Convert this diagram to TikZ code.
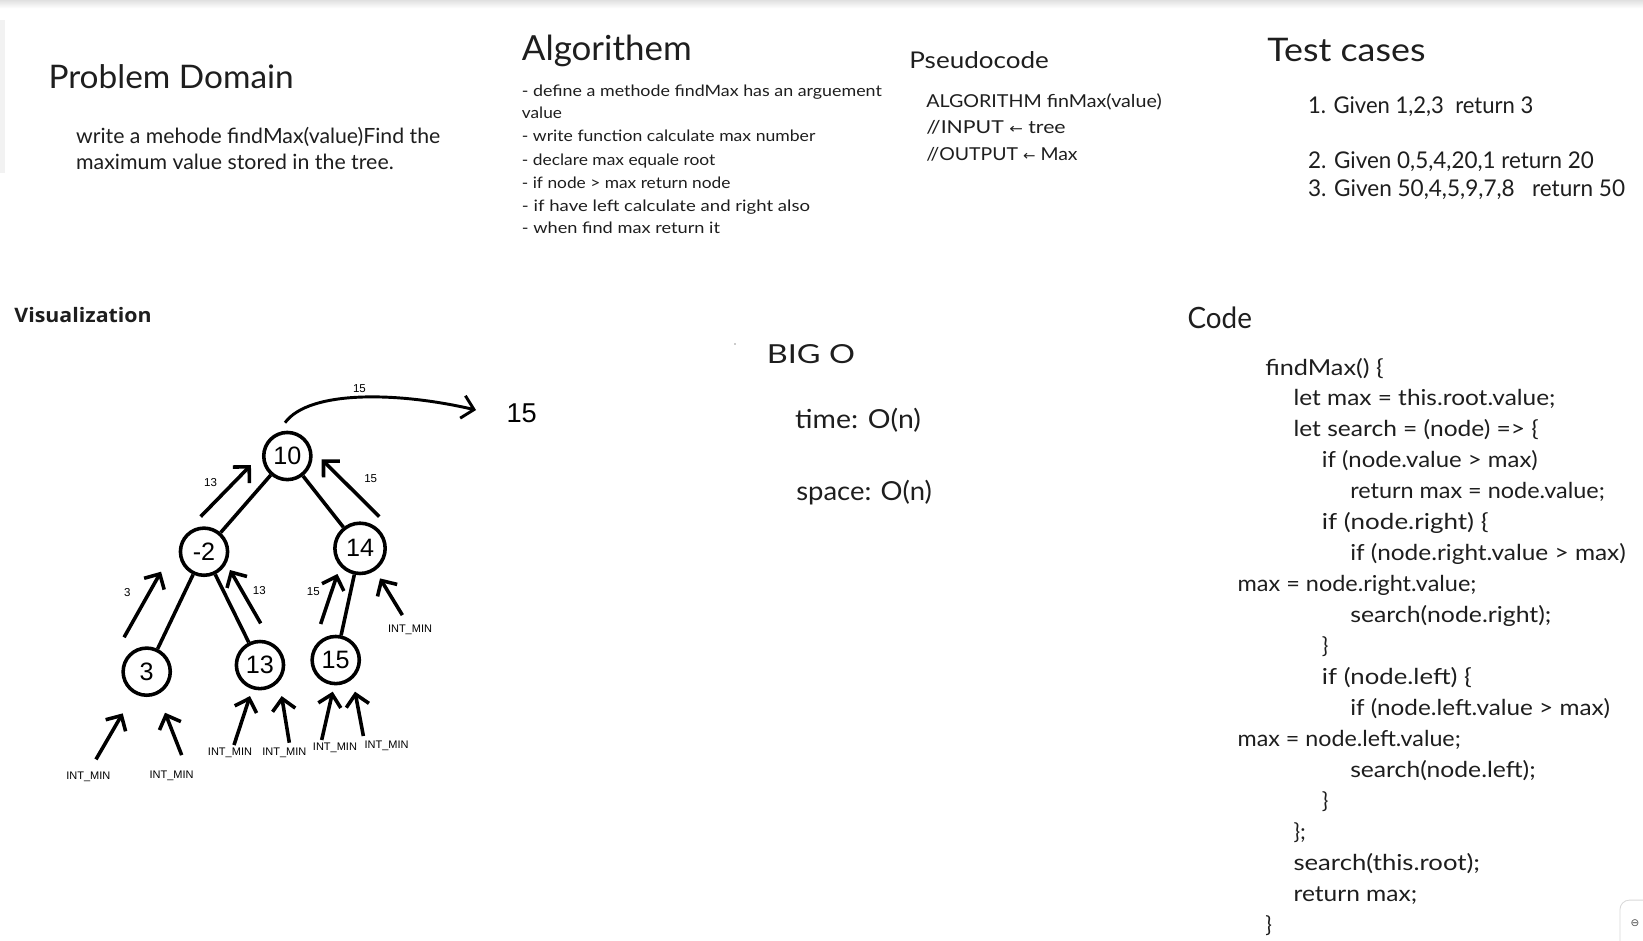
\documentclass[tikz,border=0pt]{standalone}
\usepackage{fontspec}
\usepackage{graphicx}
\usetikzlibrary{arrows.meta}
\setmainfont{Lato}
\newfontfamily\hand{Lato}
\newfontfamily\arialf{Liberation Sans}
\newfontfamily\vizf{Open Sans}
\newfontfamily\symf{DejaVu Sans}
\definecolor{ink}{HTML}{1E1E1E}
\newcommand\fitw[2]{\resizebox{#1pt}{\height}{#2}}
\newcommand\fs[1]{\fontsize{#1}{#1}\selectfont}
\begin{document}
\begin{tikzpicture}[x=1pt,y=-1pt,
  txt/.style={anchor=base west, inner sep=0pt, text=ink},
  h1/.style={txt, font=\hand\fs{31}},
  body/.style={txt, font=\hand\fs{20}},
  bul/.style={txt, font=\hand\fs{15}},
  pse/.style={txt, font=\hand\fs{17}},
  tst/.style={txt, font=\hand\fs{22}},
  big/.style={txt, font=\hand\fs{25}},
  cd/.style={txt, font=\hand\fs{21}},
  tn/.style={circle, draw=black, line width=3.4pt, inner sep=0pt, minimum size=45pt, font=\arialf\fs{24}},
  edge/.style={draw=black, line width=3.4pt},
  arr/.style={draw=black, line width=3.4pt, -{Straight Barb[length=11pt,width=22pt]}},
  lbl/.style={inner sep=0pt, font=\arialf\fs{11}},
  imin/.style={inner sep=0pt, font=\arialf\fs{10.5}}]
\useasboundingbox (0,0) rectangle (1568,898);
\clip (0,0) rectangle (1568,898);
\fill[white] (0,0) rectangle (1568,898);
% page edges
\shade[top color=black!12, bottom color=white] (0,0) rectangle (1568,8);
\fill[black!5] (0,19) rectangle (5,165);
% Problem Domain
\node[h1] (pd) at (46.1,84.3) {\fitw{234}{Problem Domain}};
\node[body] (pd1) at (72.5,137.4) {\fitw{347.5}{write a mehode findMax(value)Find the}};
\node[body] (pd2) at (72.5,162.2) {\fitw{303}{maximum value stored in the tree.}};
% Algorithem
\node[txt, font=\hand\fs{33}] (al) at (497.9,57.3) {\fitw{162}{Algorithem}};
\node[bul] (al1) at (497.9,92.3) {\fitw{343.5}{- define a methode findMax has an arguement}};
\node[bul] (al2) at (497.9,112.9) {\fitw{38.2}{value}};
\node[bul] (al3) at (497.9,135.2) {\fitw{280}{- write function calculate max number}};
\node[bul] (al4) at (497.9,157.5) {\fitw{184.5}{- declare max equale root}};
\node[bul] (al5) at (497.9,179.7) {\fitw{199}{- if node > max return node}};
\node[bul] (al6) at (497.9,202) {\fitw{275}{- if have left calculate and right also}};
\node[bul] (al7) at (497.9,222.7) {\fitw{189}{- when find max return it}};
% Pseudocode
\node[txt, font=\hand\fs{22}] (ps) at (867.7,65.2) {\fitw{133}{Pseudocode}};
\node[pse] (ps1) at (883.8,102.4) {\fitw{224.6}{ALGORITHM finMax(value)}};
\node[pse] (ps2) at (883.8,127.2) {\fitw{133}{//INPUT {\symf\fs{13}←} tree}};
\node[pse] (ps3) at (883.8,153.3) {\fitw{144.4}{//OUTPUT {\symf\fs{13}←} Max}};
% Test cases
\node[h1] (tc) at (1209.2,58.9) {\fitw{151}{Test cases}};
\node[tst] (tc1) at (1248.2,108.2) {\fitw{215}{1. Given 1,2,3\ \ return 3}};
\node[tst] (tc2) at (1248.2,160.6) {\fitw{272.7}{2. Given 0,5,4,20,1 return 20}};
\node[tst] (tc3) at (1248.2,187.7) {\fitw{302.5}{3. Given 50,4,5,9,7,8\ \ \ return 50}};
% Visualization
\node[txt, font=\vizf\bfseries\fs{19}] (viz) at (13.6,308) {\fitw{131}{Visualization}};
% Big O
\fill[black!40] (701.5,328.3) circle (0.8);
\node[big] (bo) at (731.7,346.8) {\fitw{84}{BIG O}};
\node[big] (bo1) at (758.7,408.8) {\fitw{120}{time: O(n)}};
\node[big] (bo2) at (759.7,477.2) {\fitw{129.5}{space: O(n)}};
% Code
\node[txt, font=\hand\fs{28}] (code) at (1133.2,313.4) {\fitw{61.4}{Code}};
\node[cd] (c1) at (1207.3,357.9) {\fitw{113}{findMax() \{}};
\node[cd] (c2) at (1234.3,387.45) {\fitw{250}{let max = this.root.value;}};
\node[cd] (c3) at (1234.3,417.0) {\fitw{234}{let search = (node) => \{}};
\node[cd] (c4) at (1261.4,446.55) {\fitw{206}{if (node.value > max)}};
\node[cd] (c5) at (1288.4,476.1) {\fitw{243}{return max = node.value;}};
\node[cd] (c6) at (1261.4,505.65) {\fitw{159}{if (node.right) \{}};
\node[cd] (c7) at (1288.4,535.2) {\fitw{263}{if (node.right.value > max)}};
\node[cd] (c8) at (1180.9,564.75) {\fitw{228}{max = node.right.value;}};
\node[cd] (c9) at (1288.4,594.3) {\fitw{192}{search(node.right);}};
\node[cd] (c10) at (1261.4,623.85) {\}};
\node[cd] (c11) at (1261.4,653.4) {\fitw{143}{if (node.left) \{}};
\node[cd] (c12) at (1288.4,682.95) {\fitw{248}{if (node.left.value > max)}};
\node[cd] (c13) at (1180.9,712.5) {\fitw{213}{max = node.left.value;}};
\node[cd] (c14) at (1288.4,742.05) {\fitw{177}{search(node.left);}};
\node[cd] (c15) at (1261.4,771.6) {\}};
\node[cd] (c16) at (1234.3,801.15) {\};};
\node[cd] (c17) at (1234.3,830.7) {\fitw{178}{search(this.root);}};
\node[cd] (c18) at (1234.3,860.25) {\fitw{118}{return max;}};
\node[cd] (c19) at (1207.3,889.8) {\}};
% corner widget
\draw[black!15, fill=white, rounded corners=9pt, line width=0.8pt] (1546,859) rectangle (1610,930);
\node[anchor=west, inner sep=0pt, text=black!70, font=\symf\fs{10}] (zoomicon) at (1556,881) {⊖};
% Tree
\node[tn] (n10) at (274.2,435.2) {10};
\node[tn] (nm2) at (194.7,526.5) {-2};
\node[tn, minimum size=48pt] (n14) at (343.6,523.3) {14};
\node[tn] (n3) at (140,641) {3};
\node[tn] (n13) at (248.1,634.7) {13};
\node[tn] (n15) at (320.4,629.9) {15};
\draw[edge] (n10) -- (nm2);
\draw[edge] (n10) -- (n14);
\draw[edge] (nm2) -- (n3);
\draw[edge] (nm2) -- (n13);
\draw[edge] (n14) -- (n15);
% return arrows
\coordinate (a1s) at (191.5,493);   \coordinate (a1e) at (239.5,443.8);
\coordinate (a2s) at (362,493);     \coordinate (a2e) at (307,438.4);
\coordinate (a3s) at (118.4,608.2); \coordinate (a3e) at (153.7,545.6);
\coordinate (a4s) at (248.8,594.9); \coordinate (a4e) at (219.5,544);
\coordinate (a5s) at (306,595.5);   \coordinate (a5e) at (322,547.8);
\coordinate (a6s) at (384,587);     \coordinate (a6e) at (362.7,552);
\coordinate (bas) at (91.6,724.7);  \coordinate (bae) at (117.1,680.8);
\coordinate (bbs) at (173.4,720.6); \coordinate (bbe) at (157.5,680.2);
\coordinate (bcs) at (223.3,711);   \coordinate (bce) at (238.6,664.3);
\coordinate (bds) at (276.1,708.8); \coordinate (bde) at (268.8,664.3);
\coordinate (bes) at (307,706.2);   \coordinate (bee) at (317.5,660.1);
\coordinate (bfs) at (346.8,702.4); \coordinate (bfe) at (338.8,660.1);
\draw[arr] (a1s) -- (a1e);
\draw[arr] (a2s) -- (a2e);
\draw[arr] (a3s) -- (a3e);
\draw[arr] (a4s) -- (a4e);
\draw[arr] (a5s) -- (a5e);
\draw[arr] (a6s) -- (a6e);
\draw[arr] (bas) -- (bae);
\draw[arr] (bbs) -- (bbe);
\draw[arr] (bcs) -- (bce);
\draw[arr] (bds) -- (bde);
\draw[arr] (bes) -- (bee);
\draw[arr] (bfs) -- (bfe);
\node[lbl] (l1) at (201,460.7) {13};
\node[lbl] (l2) at (353.8,457) {15};
\node[lbl] (l3) at (121.5,565.3) {3};
\node[lbl] (l4) at (247.5,563.7) {13};
\node[lbl] (l5) at (299,564.7) {15};
\node[imin] (i6) at (391.3,601.3) {INT\_MIN};
\node[imin] (ia) at (84.3,741.2) {INT\_MIN};
\node[imin] (ib) at (163.8,740.6) {INT\_MIN};
\node[imin] (ic) at (219.5,718.3) {INT\_MIN};
\node[imin] (id) at (271.4,718) {INT\_MIN};
\node[imin] (ie) at (319.7,713.5) {INT\_MIN};
\node[imin] (if) at (369,712) {INT\_MIN};
% result arrow
\coordinate (cs) at (272,403.4);
\coordinate (ce) at (454.3,391.3);
\draw[arr, line width=2.8pt] (cs) .. controls (295,372) and (380,374) .. (ce);
\node[lbl] (l0) at (343,370.6) {15};
\node[inner sep=0pt, font=\arialf\fs{26}] (res) at (497.9,394.5) {15};
\end{tikzpicture}
\end{document}
